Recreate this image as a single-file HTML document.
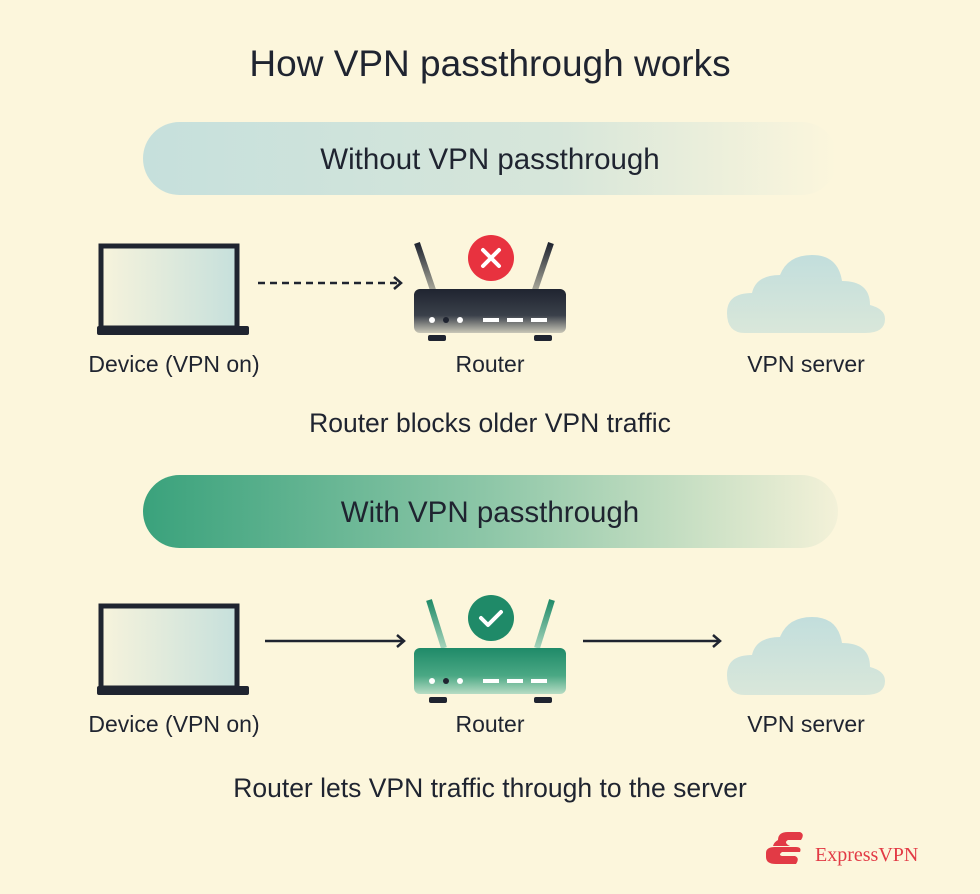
<!DOCTYPE html>
<html><head><style>
html,body{margin:0;padding:0;background:#fcf6dc;}
svg{display:block;}
text{font-family:"Liberation Sans",sans-serif;fill:#1f2430;}
</style></head><body>
<svg width="980" height="894" viewBox="0 0 980 894" xmlns="http://www.w3.org/2000/svg">
<defs>
<linearGradient id="pillA" x1="0" x2="1"><stop offset="0" stop-color="#c6e0dc"/><stop offset="0.6" stop-color="#d7e6da"/><stop offset="1" stop-color="#fcf6dc"/></linearGradient>
<linearGradient id="pillB" x1="0" x2="1"><stop offset="0" stop-color="#3aa27c"/><stop offset="0.5" stop-color="#8ec7a8"/><stop offset="1" stop-color="#f3f1d8"/></linearGradient>
<linearGradient id="scr" x1="0" x2="1"><stop offset="0" stop-color="#f7f3dc"/><stop offset="1" stop-color="#c6e0dc"/></linearGradient>
<linearGradient id="rdark" x1="0" y1="0" x2="0" y2="1"><stop offset="0" stop-color="#1f2430"/><stop offset="0.6" stop-color="#3a404a"/><stop offset="1" stop-color="#c9c7b8"/></linearGradient>
<linearGradient id="rgreen" x1="0" y1="0" x2="0" y2="1"><stop offset="0" stop-color="#1f8a68"/><stop offset="0.6" stop-color="#4aa884"/><stop offset="1" stop-color="#b7dcc4"/></linearGradient>
<linearGradient id="ant" x1="0" y1="0" x2="0" y2="1"><stop offset="0" stop-color="#1f2430"/><stop offset="1" stop-color="#a9a89a"/></linearGradient>
<linearGradient id="antg" x1="0" y1="0" x2="0" y2="1"><stop offset="0" stop-color="#1f8a68"/><stop offset="1" stop-color="#a8d5bc"/></linearGradient>
<linearGradient id="cl" x1="0" y1="0" x2="0" y2="1"><stop offset="0" stop-color="#c2dedc"/><stop offset="1" stop-color="#d9e7da"/></linearGradient>
<g id="laptop">
<rect x="101" y="0" width="136" height="82" fill="url(#scr)" stroke="#1f2430" stroke-width="5"/>
<rect x="97" y="80" width="152" height="9" rx="2" fill="#1f2430"/>
</g>
<g id="cloud">
<path d="M745,80 Q727,80 727,60 Q727,40 752,40 Q756,22 780,22 Q788,2 812,2 Q838,2 842,28 Q870,28 870,52 Q885,56 885,66 Q885,80 865,80 Z" fill="url(#cl)"/>
</g>
</defs>

<text x="490" y="76" text-anchor="middle" font-size="37">How VPN passthrough works</text>

<rect x="143" y="122" width="695" height="73" rx="36.5" fill="url(#pillA)"/>
<text x="490" y="169" text-anchor="middle" font-size="29.5">Without VPN passthrough</text>

<use href="#laptop" transform="translate(0,246)"/>
<line x1="258" y1="283" x2="398" y2="283" stroke="#1f2430" stroke-width="2.5" stroke-dasharray="7,5"/>
<path d="M394,277 L401,283 L394,289" fill="none" stroke="#1f2430" stroke-width="2.5"/>
<line x1="417" y1="243" x2="433" y2="290" stroke="url(#ant)" stroke-width="6"/>
<line x1="551" y1="243" x2="535" y2="290" stroke="url(#ant)" stroke-width="6"/>
<rect x="414" y="289" width="152" height="44" rx="6" fill="url(#rdark)"/>
<circle cx="432" cy="320" r="3" fill="#fff"/><circle cx="446" cy="320" r="3" fill="#1f2430"/><circle cx="460" cy="320" r="3" fill="#fff"/>
<rect x="483" y="318" width="16" height="4" fill="#fff"/><rect x="507" y="318" width="16" height="4" fill="#fff"/><rect x="531" y="318" width="16" height="4" fill="#fff"/>
<rect x="428" y="335" width="18" height="6" rx="2" fill="#1f2430"/><rect x="534" y="335" width="18" height="6" rx="2" fill="#1f2430"/>
<circle cx="491" cy="258" r="23" fill="#e8323f"/>
<path d="M483,250 L499,266 M499,250 L483,266" stroke="#fff" stroke-width="4" stroke-linecap="round"/>
<use href="#cloud" transform="translate(0,253)"/>
<text x="174" y="372" text-anchor="middle" font-size="23">Device (VPN on)</text>
<text x="490" y="372" text-anchor="middle" font-size="23">Router</text>
<text x="806" y="372" text-anchor="middle" font-size="23">VPN server</text>
<text x="490" y="432" text-anchor="middle" font-size="26.5">Router blocks older VPN traffic</text>

<rect x="143" y="475" width="695" height="73" rx="36.5" fill="url(#pillB)"/>
<text x="490" y="522" text-anchor="middle" font-size="29.5">With VPN passthrough</text>

<use href="#laptop" transform="translate(0,606)"/>
<line x1="265" y1="641" x2="402" y2="641" stroke="#1f2430" stroke-width="2.5"/>
<path d="M397,635 L404,641 L397,647" fill="none" stroke="#1f2430" stroke-width="2.5"/>
<line x1="583" y1="641" x2="718" y2="641" stroke="#1f2430" stroke-width="2.5"/>
<path d="M713,635 L720,641 L713,647" fill="none" stroke="#1f2430" stroke-width="2.5"/>
<line x1="429" y1="600" x2="444" y2="648" stroke="url(#antg)" stroke-width="6"/>
<line x1="552" y1="600" x2="537" y2="648" stroke="url(#antg)" stroke-width="6"/>
<rect x="414" y="648" width="152" height="46" rx="6" fill="url(#rgreen)"/>
<circle cx="432" cy="681" r="3" fill="#fff"/><circle cx="446" cy="681" r="3" fill="#1f2430"/><circle cx="460" cy="681" r="3" fill="#fff"/>
<rect x="483" y="679" width="16" height="4" fill="#fff"/><rect x="507" y="679" width="16" height="4" fill="#fff"/><rect x="531" y="679" width="16" height="4" fill="#fff"/>
<rect x="429" y="697" width="18" height="6" rx="2" fill="#1f2430"/><rect x="534" y="697" width="18" height="6" rx="2" fill="#1f2430"/>
<circle cx="491" cy="618" r="23" fill="#1f8a68"/>
<path d="M481,618 L488,625 L501,612" fill="none" stroke="#fff" stroke-width="4" stroke-linecap="round" stroke-linejoin="round"/>
<use href="#cloud" transform="translate(0,615)"/>
<text x="174" y="732" text-anchor="middle" font-size="23">Device (VPN on)</text>
<text x="490" y="732" text-anchor="middle" font-size="23">Router</text>
<text x="806" y="732" text-anchor="middle" font-size="23">VPN server</text>
<text x="490" y="797" text-anchor="middle" font-size="26.5">Router lets VPN traffic through to the server</text>

<g fill="#e23a45">
<path d="M778,840 Q778,832 788,832 L800,832 Q805,834 801,840 L788,840 Q784,842 788,845 L790,846 L773,846 Q774,842 778,840 Z"/>
<path d="M766,853 Q766,847 775,847 L796,847 Q802,847 800,852 L782,852 Q778,855 782,856 L795,856 Q800,858 796,864 L776,864 Q766,864 766,857 Z"/>
</g>
<text x="815" y="861" font-size="20" style="font-family:'Liberation Serif',serif;fill:#e23a45">ExpressVPN</text>
</svg>
</body></html>
